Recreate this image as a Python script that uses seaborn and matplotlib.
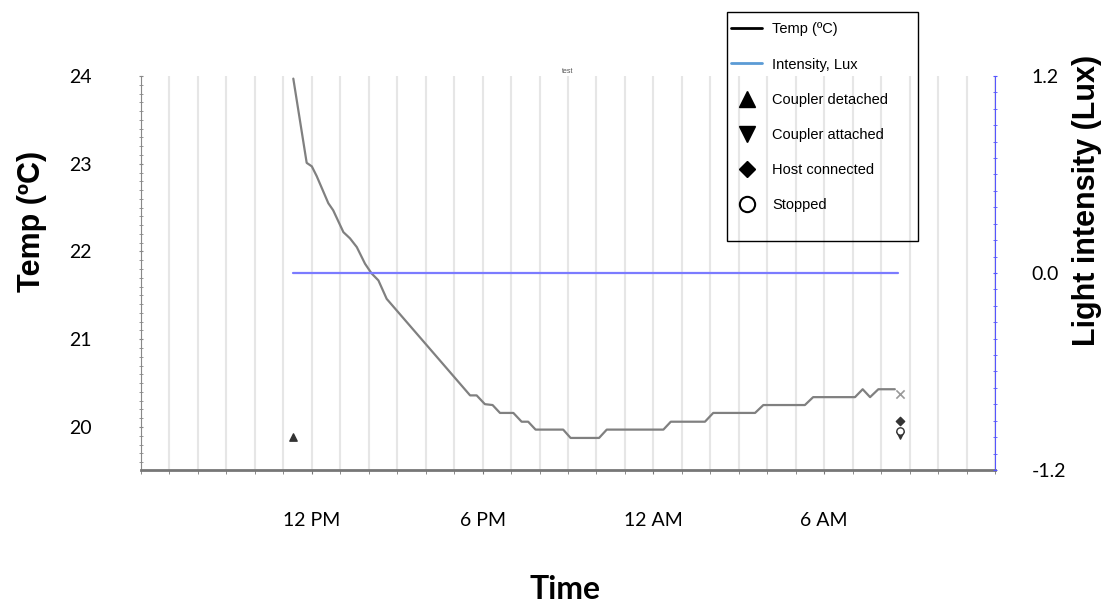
import pandas as pd
import matplotlib.pyplot as plt
import seaborn as sns
from matplotlib.lines import Line2D
from matplotlib.patches import Rectangle

# hours counted from 6 AM on the first day
hours = [5.35, 5.82, 6.0, 6.17, 6.58, 6.75, 7.11, 7.34, 7.58, 7.87, 8.10, 8.34, 8.63,
         11.56, 11.79, 12.08, 12.35, 12.61, 13.08, 13.37, 13.60, 13.86, 14.83, 15.09,
         16.09, 16.36, 18.35, 18.61, 19.81, 20.10, 21.57, 21.86, 23.32, 23.61, 25.08,
         25.35, 25.61, 25.90, 26.48]
temp_c = [23.97, 23.01, 22.97, 22.86, 22.55, 22.47, 22.22, 22.15, 22.05, 21.86, 21.75,
          21.67, 21.46, 20.36, 20.36, 20.26, 20.25, 20.16, 20.16, 20.06, 20.06, 19.97,
          19.97, 19.875, 19.875, 19.97, 19.97, 20.06, 20.06, 20.16, 20.16, 20.25, 20.25,
          20.34, 20.34, 20.43, 20.34, 20.43, 20.43]

lux_hours = [5.35, 26.59]
lux = [0.0, 0.0]

event_names = ["Coupler detached", "Coupler attached", "Host connected", "Stopped"]
event_hours = [5.35, 26.66, 26.66, 26.66]
event_temps = [19.89, 19.91, 20.07, 19.955]
end_hour = [26.66]
end_temp = [20.38]

tick_hours = [6, 12, 18, 24]
tick_labels = ["12 PM", "6 PM", "12 AM", "6 AM"]

sns.set_style("white")
plt.rcParams["font.family"] = ["Liberation Sans", "DejaVu Sans"]
plt.rcParams["text.color"] = "black"
plt.rcParams["axes.labelcolor"] = "black"
plt.rcParams["xtick.labelcolor"] = "black"
plt.rcParams["ytick.labelcolor"] = "black"

fig = plt.figure(figsize=(11.05, 6.04), dpi=100)
ax = fig.add_axes([0.1276, 0.2219, 0.7729, 0.6523])
ax2 = ax.twinx()

df = pd.DataFrame({"hour": hours, "temp": temp_c})
sns.lineplot(data=df, x="hour", y="temp", ax=ax, color="#808080", lw=1.6)

# event markers
ev = pd.DataFrame({"hour": event_hours, "temp": event_temps, "event": event_names})
marker_map = {"Coupler detached": "^", "Coupler attached": "v", "Host connected": "D", "Stopped": "o"}
for _, r in ev.iterrows():
    face = "white" if r["event"] == "Stopped" else "#333333"
    sz = 18 if r["event"] == "Host connected" else 28
    sns.scatterplot(x=[r["hour"]], y=[r["temp"]], ax=ax, marker=marker_map[r["event"]],
                    color=face, edgecolor="#333333", linewidth=1, s=sz, zorder=5)
sns.scatterplot(x=end_hour, y=end_temp, ax=ax, marker="x", color="#999999", s=35,
                linewidth=1.2, zorder=5)

lux_df = pd.DataFrame({"hour": lux_hours, "lux": lux})
sns.lineplot(data=lux_df, x="hour", y="lux", ax=ax2, color="#7b7bff", lw=1.6)

# x axis
ax.set_xlim(0, 30)
ax.set_xticks(tick_hours, tick_labels)
ax.set_xticks(range(0, 31), minor=True)
ax.grid(axis="x", which="both", color="#e6e6e6", lw=1.5)
ax.tick_params(axis="x", which="both", length=3, color="#777777", direction="out", bottom=True)
ax.tick_params(axis="x", which="major", pad=27, labelsize=14, labelcolor="black")
for t in ax.get_xticklabels():
    t.set_family(["Lato", "DejaVu Sans"])

# left axis
ax.set_ylim(19.51, 24.0)
ax.set_yticks([20, 21, 22, 23, 24])
ax.set_yticks([19.6 + 0.1 * i for i in range(45)], minor=True)
ax.tick_params(axis="y", which="both", length=3, color="#888888", direction="inout", left=True)
ax.tick_params(axis="y", which="major", pad=34, labelsize=14, labelcolor="black")
for t in ax.get_yticklabels():
    t.set_family(["Lato", "DejaVu Sans"])

# right axis
ax2.set_ylim(-1.2, 1.2)
ax2.set_yticks([-1.2, 0.0, 1.2], ["-1.2", "0.0", "1.2"])
ax2.set_yticks([-1.2 + 0.1 * i for i in range(25)], minor=True)
ax2.tick_params(axis="y", which="both", length=3, color="#5555ff", direction="inout", right=True)
ax2.tick_params(axis="y", which="major", pad=25, labelsize=14, labelcolor="black")
for t in ax2.get_yticklabels():
    t.set_family(["Lato", "DejaVu Sans"])

for s in ["top", "right"]:
    ax.spines[s].set_visible(False)
for s in ["top", "left", "bottom"]:
    ax2.spines[s].set_visible(False)
ax.spines["left"].set_color("#888888")
ax.spines["bottom"].set_color("#777777")
ax.spines["bottom"].set_linewidth(2)
ax2.spines["right"].set_color("#5555ff")

ax.set_xlabel("Time", fontsize=23, fontweight="bold", family=["Lato", "DejaVu Sans"], color="black")
ax.xaxis.set_label_coords(0.496, -0.266)
ax.set_ylabel("Temp (ºC)", fontsize=22, fontweight="bold", color="black")
ax.yaxis.set_label_coords(-0.11, 0.63)
ax2.set_ylabel("Light intensity (Lux)", fontsize=22, fontweight="bold", color="black")
ax2.yaxis.set_label_coords(1.09, 0.685)
ax.set_title("test", fontsize=5, color="#555555", pad=2)

# legend box
fig.patches.append(Rectangle((0.658, 0.601), 0.1729, 0.379, transform=fig.transFigure,
                             fill=False, edgecolor="black", lw=1))
handles = [
    Line2D([], [], color="black", lw=2),
    Line2D([], [], color="#5b9bd5", lw=2),
    Line2D([], [], marker="^", color="black", ls="none", markersize=11),
    Line2D([], [], marker="v", color="black", ls="none", markersize=11),
    Line2D([], [], marker="D", color="black", ls="none", markersize=8),
    Line2D([], [], marker="o", color="black", mfc="white", mew=1.5, ls="none", markersize=11),
]
labels = ["Temp (ºC)", "Intensity, Lux"] + event_names
fig.legend(handles, labels, loc="upper left", bbox_to_anchor=(0.655, 0.975), frameon=False,
           fontsize=10.5, labelspacing=1.45, handlelength=2.15, handletextpad=0.65, borderpad=0,
           labelcolor="black")

fig.savefig("out.png", dpi=100)
